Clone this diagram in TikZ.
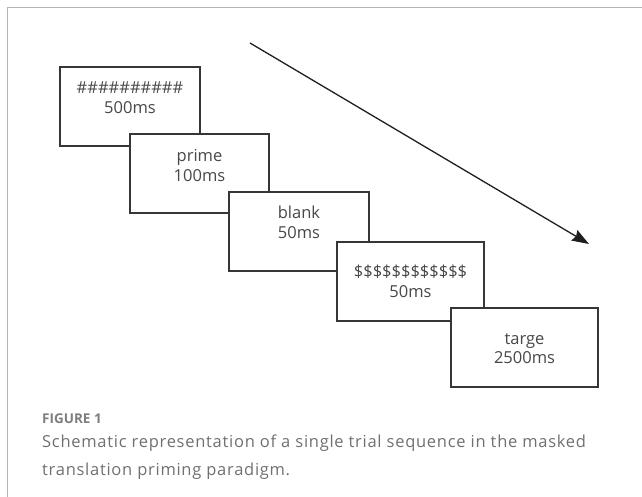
\documentclass[tikz,border=0pt]{standalone}
\usepackage{fontspec}
\setmainfont{Open Sans}
\newfontfamily\capfont[LetterSpace=4.4]{Open Sans}
\usetikzlibrary{arrows.meta}
\definecolor{frame}{HTML}{B4B4B4}
\definecolor{boxline}{HTML}{363636}
\definecolor{boxtext}{HTML}{484848}
\definecolor{captext}{HTML}{707070}
\tikzset{
  stimbox/.style={draw=boxline, line width=1.5pt, fill=white, rectangle, inner sep=0pt, outer sep=0pt, minimum height=79pt},
  stimtext/.style={text=boxtext, align=center, inner sep=0pt, font=\fontsize{16.5}{19.5}\selectfont},
  capline/.style={anchor=base west, inner sep=0pt, text=captext, font=\capfont\fontsize{16.5}{20}\selectfont},
}
\begin{document}
\begin{tikzpicture}[x=1pt,y=-1pt]
\useasboundingbox (0,0) rectangle (642,497);
% frame
\coordinate (ftr) at (642,7.5);
\coordinate (ftl) at (7.5,7.5);
\coordinate (fbl) at (7.5,497);
\draw[frame, line width=1.5pt] (ftr) -- (ftl) -- (fbl);
% boxes
\node[stimbox, minimum width=140pt] (b1) at (130,106.5) {};
\node[stimtext] (t1) at ([yshift=8.8pt]b1.center) {\#\#\#\#\#\#\#\#\#\#\\500ms};
\node[stimbox, minimum width=139pt] (b2) at (199.5,173.5) {};
\node[stimtext] (t2) at ([yshift=8pt]b2.center) {prime\\100ms};
\node[stimbox, minimum width=140pt] (b3) at (299,231.5) {};
\node[stimtext] (t3) at ([yshift=9pt]b3.center) {blank\\50ms};
\node[stimbox, minimum width=147pt] (b4) at (410.5,281.5) {};
\node[stimtext] (t4) at ([yshift=0pt]b4.center) {\$\$\$\$\$\$\$\$\$\$\$\$\\50ms};
\node[stimbox, minimum width=147pt] (b5) at (524.5,347.5) {};
\node[stimtext] (t5) at ([yshift=-1pt]b5.center) {targe\\2500ms};
% arrow
\coordinate (as) at (250,43);
\coordinate (ae) at (589,244);
\draw[draw=black!88, line width=1.3pt, -{Stealth[length=17pt,width=12pt,inset=2pt]}] (as) -- (ae);
% caption
\node[capline, font=\fontsize{13.5}{16}\selectfont\bfseries, text=captext!90] (fig) at (42,423) {FIGURE 1};
\node[capline] (c1) at (42,447) {Schematic representation of a single trial sequence in the masked};
\node[capline] (c2) at (42,475) {translation priming paradigm.};
\end{tikzpicture}
\end{document}
